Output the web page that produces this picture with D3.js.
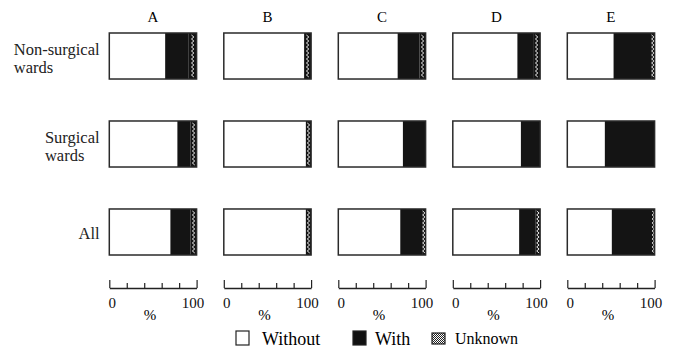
<!DOCTYPE html>
<html>
<head>
<meta charset="utf-8">
<script src="https://cdn.jsdelivr.net/npm/d3@7"></script>
<style>
  body { margin: 0; background: #fff; }
  text { font-family: "Liberation Serif", "DejaVu Serif", serif; }
</style>
</head>
<body>
<svg id="chart" width="680" height="350"></svg>
<script>
// wards (columns) and patient groups (rows)
const wards = ['A', 'B', 'C', 'D', 'E'];
const groups = [['Non-surgical', 'wards'], ['Surgical', 'wards'], ['All']];

// percent of patients, indexed [group][ward]
const withoutPct = [[64, 92, 68, 74, 53], [78, 94, 74, 78, 43], [70, 94, 71, 76, 51]];
const withPct    = [[27, 0, 25, 18, 43], [15, 0, 26, 22, 57], [23, 0, 25, 19, 46]];
const unknownPct = [[9, 8, 7, 8, 4], [7, 6, 0, 0, 0], [7, 6, 4, 5, 3]];

const axisTicks = [0, 20, 40, 60, 80, 100];
const legendItems = ['Without', 'With', 'Unknown'];

const FONT = '"Liberation Serif", "DejaVu Serif", serif';
const svg = d3.select('#chart').style('font-family', FONT);

// checker pattern for the legend swatch
const defs = svg.append('defs');
const pat2 = defs.append('pattern')
  .attr('id', 'unkLegend').attr('patternUnits', 'userSpaceOnUse')
  .attr('width', 2).attr('height', 2);
pat2.append('rect').attr('width', 2).attr('height', 2).attr('fill', '#fff');
pat2.append('rect').attr('width', 1).attr('height', 1).attr('fill', '#222');
pat2.append('rect').attr('x', 1).attr('y', 1).attr('width', 1).attr('height', 1).attr('fill', '#222');

const colors = { without: '#fff', with: '#141414', unknown: '#141414' };

// layout scales
const col = d3.scaleBand().domain(wards).range([109.3, 654.6]).paddingInner(0.2376);
const row = d3.scaleBand().domain(d3.range(groups.length)).range([33, 255]).paddingInner(0.477);
const pct = d3.scaleLinear().domain([0, 100]).range([0, col.bandwidth()]);

// build records and stack them
const records = [];
groups.forEach((g, gi) => {
  wards.forEach((w, wi) => {
    records.push({ ward: w, group: gi,
      without: withoutPct[gi][wi], with: withPct[gi][wi], unknown: unknownPct[gi][wi] });
  });
});
const stacked = d3.stack().keys(['without', 'with', 'unknown'])(records);

// column letters
svg.append('g').selectAll('text')
  .data(wards)
  .join('text')
  .attr('x', d => col(d) + col.bandwidth() / 2)
  .attr('y', 22)
  .attr('text-anchor', 'middle')
  .attr('font-size', 15)
  .attr('font-family', FONT)
  .text(d => d);

// row labels, left aligned block ending near the boxes
groups.forEach((lines, gi) => {
  const cy = row(gi) + row.bandwidth() / 2;
  const t = svg.append('text')
    .attr('font-size', 16.5)
    .attr('font-family', FONT)
    .attr('fill', '#222');
  const y0 = lines.length > 1 ? cy - 1 : cy + 7;
  lines.forEach((l, li) => {
    t.append('tspan').attr('x', 0).attr('y', y0 + li * 18).text(l);
  });
  const w = t.node().getBBox().width;
  t.attr('transform', `translate(${100 - w},0)`);
});

// bars
const panels = svg.append('g');
stacked.forEach(layer => {
  panels.append('g')
    .selectAll('rect')
    .data(layer)
    .join('rect')
    .attr('x', d => col(d.data.ward) + pct(d[0]))
    .attr('y', d => row(d.data.group))
    .attr('width', d => pct(d[1]) - pct(d[0]))
    .attr('height', row.bandwidth())
    .attr('fill', colors[layer.key]);
});

// white zigzag inside the "unknown" strips
const unkLayer = stacked[2].filter(d => d[1] - d[0] > 0);
panels.append('g')
  .selectAll('path')
  .data(unkLayer)
  .join('path')
  .attr('d', d => {
    const cx = col(d.data.ward) + (pct(d[0]) + pct(d[1])) / 2;
    const top = row(d.data.group) + 2;
    const bot = row(d.data.group) + row.bandwidth() - 2;
    const pts = d3.range(top, bot, 2).map((y, i) => [cx + (i % 2 ? 1.2 : -1.2), y]);
    return d3.line()(pts);
  })
  .attr('fill', 'none')
  .attr('stroke', '#fff')
  .attr('stroke-width', 0.9);

// box outlines
panels.append('g')
  .selectAll('rect')
  .data(records)
  .join('rect')
  .attr('x', d => col(d.ward))
  .attr('y', d => row(d.group))
  .attr('width', col.bandwidth())
  .attr('height', row.bandwidth())
  .attr('fill', 'none')
  .attr('stroke', '#2a2a2a')
  .attr('stroke-width', 1.5);

// axes under each column
const axisY = 288;
wards.forEach(w => {
  const x = d3.scaleLinear().domain([0, 100]).range([col(w), col(w) + col.bandwidth()]);
  const g = svg.append('g')
    .attr('transform', `translate(0,${axisY})`)
    .call(d3.axisBottom(x)
      .tickValues(axisTicks)
      .tickSizeInner(-5)
      .tickSizeOuter(0)
      .tickPadding(9)
      .tickFormat(d => (d === 0 || d === 100) ? d : ''));
  g.attr('font-family', FONT);
  g.select('.domain').attr('stroke', '#222').attr('stroke-width', 1.3);
  g.selectAll('.tick line').attr('stroke', '#222').attr('stroke-width', 1.2)
    .attr('y2', d => (d === 0 || d === 100) ? -8 : -5);
  g.selectAll('.tick text')
    .attr('font-family', FONT)
    .attr('font-size', 15)
    .attr('fill', '#111')
    .attr('dx', d => d === 0 ? 2.5 : (d === 100 ? -4 : 0));
  svg.append('text')
    .attr('x', col(w) + col.bandwidth() / 2 - 3)
    .attr('y', 320)
    .attr('text-anchor', 'middle')
    .attr('font-size', 15)
    .attr('font-family', FONT)
    .text('%');
});

// legend
const legendX = [236, 353, 432];
const legendFill = ['#fff', '#111', 'url(#unkLegend)'];
const legend = svg.append('g');
legendItems.forEach((name, i) => {
  const small = i === 2;
  legend.append('rect')
    .attr('x', legendX[i])
    .attr('y', small ? 333 : 331)
    .attr('width', 13)
    .attr('height', small ? 11 : 14)
    .attr('fill', legendFill[i])
    .attr('stroke', '#222')
    .attr('stroke-width', 1.2);
  legend.append('text')
    .attr('x', legendX[i] + (small ? 23 : 26) - (i === 1 ? 4 : 0))
    .attr('y', small ? 344 : 345)
    .attr('font-size', small ? 16 : 18)
    .attr('font-family', FONT)
    .text(name);
});
</script>
</body>
</html>
